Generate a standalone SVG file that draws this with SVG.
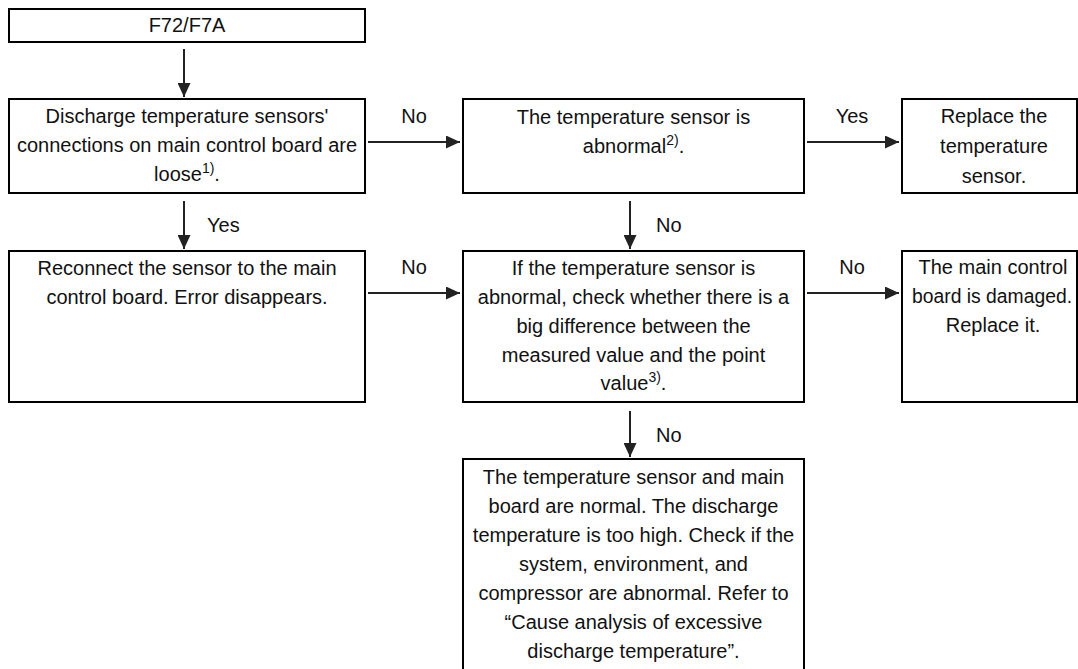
<svg xmlns="http://www.w3.org/2000/svg" width="1078" height="669" viewBox="0 0 1078 669">
<style>
.box{fill:#fff;stroke:#000;stroke-width:2}
.t{font-family:"Liberation Sans",Arial,sans-serif;font-size:20px;fill:#111;text-anchor:middle}
.l{font-family:"Liberation Sans",Arial,sans-serif;font-size:20px;fill:#111}
.c{stroke:#222;stroke-width:2;fill:none;marker-end:url(#ah)}
.sup{font-size:14px}
</style>
<defs>
<marker id="ah" markerUnits="userSpaceOnUse" markerWidth="14" markerHeight="13" refX="14" refY="6.5" orient="auto">
<path d="M0,0 L14,6.5 L0,13 Z" fill="#222"/>
</marker>
</defs>
<rect width="1078" height="669" fill="#fff"/>
<g id="connectors">
<line class="c" x1="184" y1="49" x2="184" y2="97"/>
<line class="c" x1="368" y1="142" x2="460" y2="142"/>
<text class="t" x="414" y="123">No</text>
<line class="c" x1="807" y1="142" x2="899" y2="142"/>
<text class="t" x="852" y="123">Yes</text>
<line class="c" x1="184" y1="201" x2="184" y2="249"/>
<text class="l" x="207" y="232">Yes</text>
<line class="c" x1="630" y1="201" x2="630" y2="249"/>
<text class="l" x="656" y="232">No</text>
<line class="c" x1="368" y1="293" x2="460" y2="293"/>
<text class="t" x="414" y="274">No</text>
<line class="c" x1="807" y1="293" x2="899" y2="293"/>
<text class="t" x="852" y="274">No</text>
<line class="c" x1="630" y1="411" x2="630" y2="457"/>
<text class="l" x="656" y="442">No</text>
</g>
<g id="n1">
<rect class="box" x="9" y="9" width="356" height="33"/>
<text class="t" x="187" y="32">F72/F7A</text>
</g>
<g id="n2">
<rect class="box" x="9" y="99" width="356" height="94"/>
<text class="t" x="187" y="123">Discharge temperature sensors'</text>
<text class="t" x="187" y="152">connections on main control board are</text>
<text class="t" x="187" y="181">loose<tspan class="sup" dy="-8">1)</tspan><tspan dy="8">.</tspan></text>
</g>
<g id="n3">
<rect class="box" x="463" y="99" width="341" height="94"/>
<text class="t" x="633.5" y="124">The temperature sensor is</text>
<text class="t" x="633.5" y="153">abnormal<tspan class="sup" dy="-8">2)</tspan><tspan dy="8">.</tspan></text>
</g>
<g id="n4">
<rect class="box" x="902" y="99" width="175" height="94"/>
<text class="t" x="994" y="123">Replace the</text>
<text class="t" x="994" y="153">temperature</text>
<text class="t" x="994" y="183">sensor.</text>
</g>
<g id="n5">
<rect class="box" x="9" y="251" width="356" height="151"/>
<text class="t" x="187" y="275">Reconnect the sensor to the main</text>
<text class="t" x="187" y="304">control board. Error disappears.</text>
</g>
<g id="n6">
<rect class="box" x="463" y="251" width="341" height="151"/>
<text class="t" x="633.5" y="275">If the temperature sensor is</text>
<text class="t" x="633.5" y="304">abnormal, check whether there is a</text>
<text class="t" x="633.5" y="333">big difference between the</text>
<text class="t" x="633.5" y="362">measured value and the point</text>
<text class="t" x="633.5" y="390">value<tspan class="sup" dy="-8">3)</tspan><tspan dy="8">.</tspan></text>
</g>
<g id="n7">
<rect class="box" x="902" y="251" width="175" height="151"/>
<text class="t" x="993" y="274">The main control</text>
<text class="t" x="992" y="303" textLength="160" lengthAdjust="spacingAndGlyphs">board is damaged.</text>
<text class="t" x="993" y="332">Replace it.</text>
</g>
<g id="n8">
<rect class="box" x="463" y="459" width="341" height="230"/>
<text class="t" x="633.5" y="484">The temperature sensor and main</text>
<text class="t" x="633.5" y="513">board are normal. The discharge</text>
<text class="t" x="633.5" y="542">temperature is too high. Check if the</text>
<text class="t" x="633.5" y="571">system, environment, and</text>
<text class="t" x="633.5" y="600">compressor are abnormal. Refer to</text>
<text class="t" x="633.5" y="629">“Cause analysis of excessive</text>
<text class="t" x="633.5" y="658">discharge temperature”.</text>
</g>
</svg>
